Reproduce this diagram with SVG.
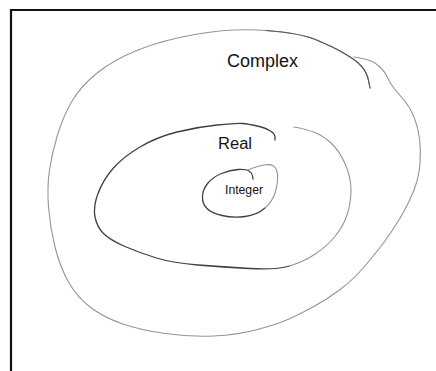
<svg xmlns="http://www.w3.org/2000/svg" width="436" height="371" viewBox="0 0 436 371">
<style>
.frame{fill:none;stroke:#111;stroke-width:2.2}
.curve{fill:none;stroke-linecap:round;stroke-linejoin:round}
.light{stroke:#959595;stroke-width:1.1}
.dark{stroke:#404040;stroke-width:1.3}
.lbl{font-family:"Liberation Sans","DejaVu Sans",sans-serif;fill:#141414}
</style>
<rect width="436" height="371" fill="#fff"/>
<path class="frame" d="M11,371 V10 H436"/>
<g id="complex">
<path class="curve light" d="M370,88 L368.5,80.5 Q367,73 362.5,67.5 Q358,62 352.5,58.5 Q347,55 340,51 Q333,47 316.5,40 Q300,33 266,30.5 Q232,28 197.5,34 Q163,40 138,50 Q113,60 96.5,73.5 Q80,87 71.5,102 Q63,117 57.5,135 Q52,153 49.5,170 Q47,187 48.5,207 Q50,227 55,247 Q60,267 68.5,282 Q77,297 90,307 Q103,317 121.5,323.5 Q140,330 165,333.5 Q190,337 213.5,336 Q237,335 257.5,329.5 Q278,324 289,319 Q300,314 313,307 Q326,300 339.5,290 Q353,280 364.5,266.5 Q376,253 384.5,241.5 Q393,230 401,216.5 Q409,203 414,190 Q419,177 420,163.5 Q421,150 419.5,138.5 Q418,127 414,117 Q410,107 403.5,99.5 Q397,92 393.5,87.5 Q390,83 387.5,77.5 Q385,72 380.5,67.5 Q376,63 371,61 Q366,59 360,58 L354,57"/>
<path class="curve" d="M370,88 L368.5,80.5 Q367,73 362.5,67.5 Q358,62 352.5,58.5 Q347,55 340,51 Q333,47 316.5,40 Q300,33 266,30.5" style="stroke:#5a5a5a;stroke-width:1.2"/>
<text class="lbl" x="227" y="67" font-size="18" textLength="71" lengthAdjust="spacingAndGlyphs">Complex</text>
</g>
<g id="real">
<path class="curve dark" d="M275,140 L275,137 Q275,134 270.5,131 Q266,128 257,126 Q248,124 242.5,123.5 Q237,123 217,125 Q197,127 177,132 Q157,137 140,147 Q123,157 113,168.5 Q103,180 98,193.5 Q93,207 95,217 Q97,227 103.5,233.5 Q110,240 125,246.5 Q140,253 156.5,258 Q173,263 198,265 Q223,267 249.5,268.5 Q276,270 289.5,266"/>
<path class="curve light" d="M289.5,266 Q303,262 314.5,254.5 Q326,247 334.5,237 Q343,227 347,215 Q351,203 351,190 Q351,177 345,163.5 Q339,150 330.5,142.5 Q322,135 313.5,132 Q305,129 299.5,128 L294,127"/>
<text class="lbl" x="218" y="149" font-size="16" textLength="34" lengthAdjust="spacingAndGlyphs">Real</text>
</g>
<g id="integer">
<path class="curve dark" d="M253,179 L252.5,176 Q252,173 249,171 Q246,169 238,169.5 Q230,170 221.5,173.5 Q213,177 208,183 Q203,189 202.5,196 Q202,203 206.5,208 Q211,213 222,215.5 Q233,218 245,216.5 Q257,215 265,208"/>
<path class="curve light" d="M265,208 Q273,201 275.5,191.5 Q278,182 277.5,175 Q277,168 273.5,166 Q270,164 264,165 Q258,166 253,168 L248,170"/>
<text class="lbl" x="225" y="194" font-size="12" textLength="38" lengthAdjust="spacingAndGlyphs">Integer</text>
</g>
</svg>
